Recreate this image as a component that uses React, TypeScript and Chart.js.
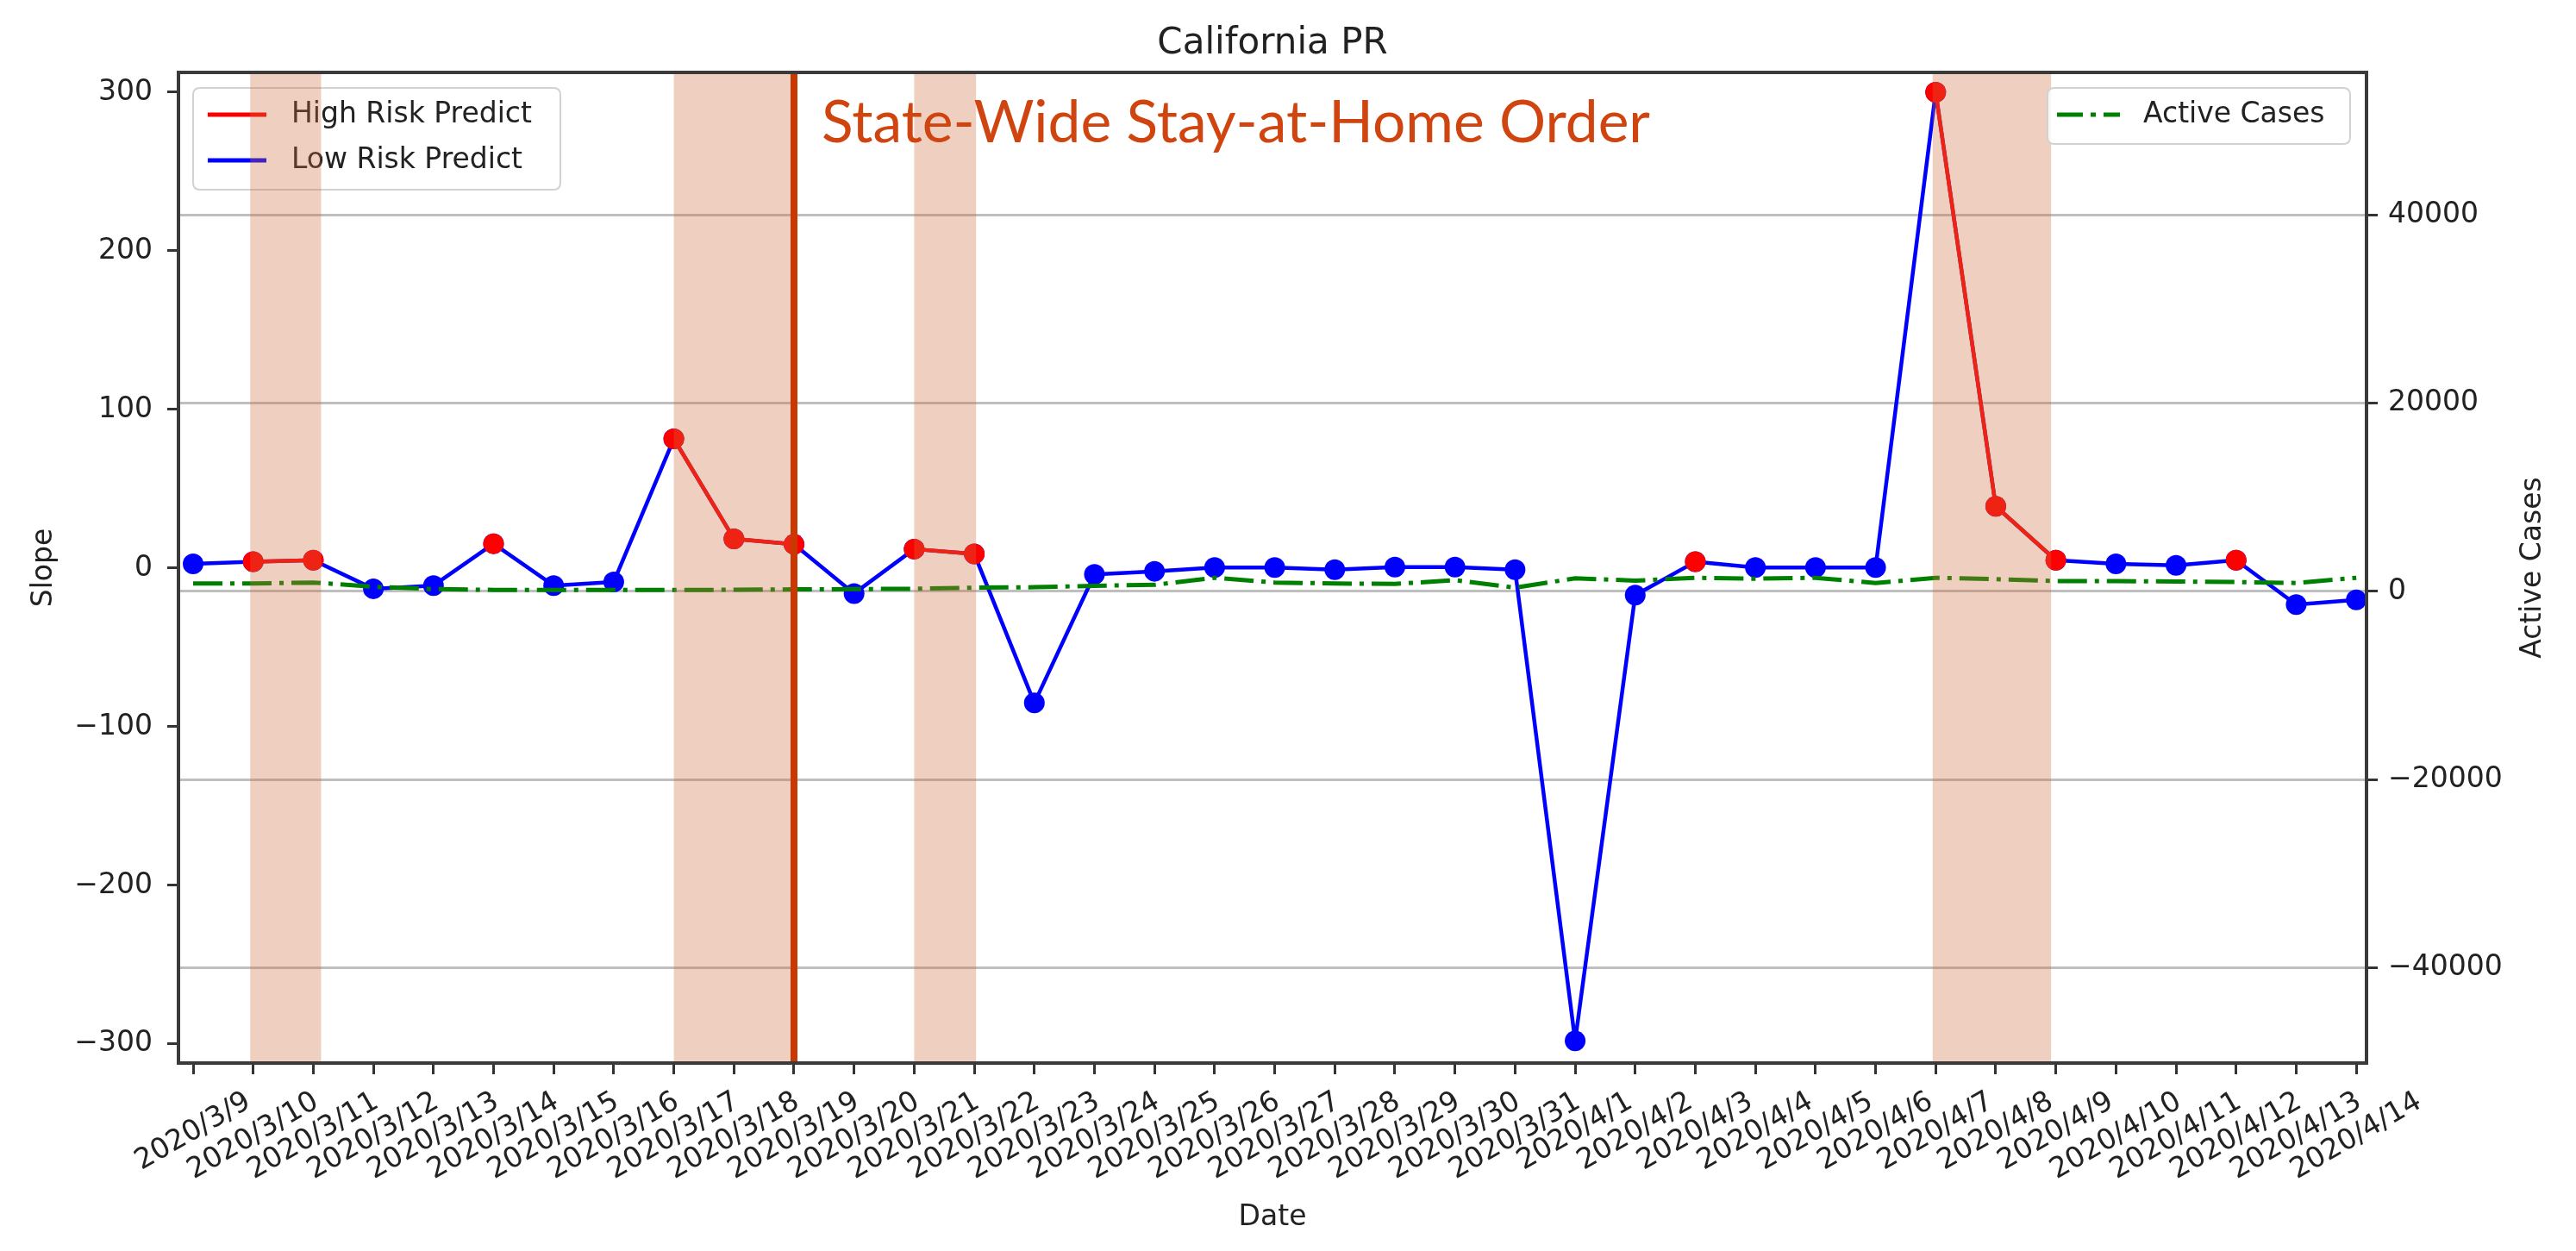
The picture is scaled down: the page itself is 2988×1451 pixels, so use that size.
import React, { useEffect, useRef } from 'react';
import { Chart, registerables } from 'chart.js';

Chart.register(...registerables);

// ---------------- data ----------------
const dates = [
  '2020/3/9', '2020/3/10', '2020/3/11', '2020/3/12', '2020/3/13', '2020/3/14', '2020/3/15',
  '2020/3/16', '2020/3/17', '2020/3/18', '2020/3/19', '2020/3/20', '2020/3/21', '2020/3/22',
  '2020/3/23', '2020/3/24', '2020/3/25', '2020/3/26', '2020/3/27', '2020/3/28', '2020/3/29',
  '2020/3/30', '2020/3/31', '2020/4/1', '2020/4/2', '2020/4/3', '2020/4/4', '2020/4/5',
  '2020/4/6', '2020/4/7', '2020/4/8', '2020/4/9', '2020/4/10', '2020/4/11', '2020/4/12',
  '2020/4/13', '2020/4/14',
];

const slope = [
  2.7, 4, 5, -13, -11, 15.4, -11, -8.7, 81.5, 18.5, 15, -16, 12, 9, -85, -4, -2, 0.4, 0.4,
  -1, 0.7, 0.7, -1, -298, -17, 4, 0.4, 0.4, 0.4, 300, 39, 5, 2.7, 1.8, 5, -23, -20,
];

const highRisk = [
  0, 1, 1, 0, 0, 1, 0, 0, 1, 1, 1, 0, 1, 1, 0, 0, 0, 0, 0, 0, 0, 0, 0, 0, 0, 1, 0, 0, 0, 1,
  1, 1, 0, 0, 1, 0, 0,
];

const activeCases = [
  850, 850, 950, 500, 250, 170, 150, 150, 150, 180, 220, 250, 280, 400, 450, 600, 700, 1450,
  950, 850, 800, 1200, 400, 1400, 1150, 1450, 1350, 1450, 900, 1450, 1300, 1100, 1100, 1050,
  1000, 900, 1450,
];

const slopeTicks = [-300, -200, -100, 0, 100, 200, 300];
const caseTicks = [-40000, -20000, 0, 20000, 40000];

const bands = [
  [0.95, 2.13],
  [8, 10],
  [12, 13.03],
  [28.95, 30.92],
];
const orderIndex = 10; // 2020/3/19
const orderText = 'State-Wide Stay-at-Home Order';
const chartTitle = 'California PR';
const xTitle = 'Date';
const yLeftTitle = 'Slope';
const yRightTitle = 'Active Cases';

// ---------------- style ----------------
const W = 2988;
const H = 1451;
const FONT = '"DejaVu Sans"';
const TEXT = '#222222';
const RED = '#ff0000';
const BLUE = '#0000ff';
const GREEN = '#008000';
const GREEN_DASH = [34, 9, 5, 9];

const fmt = (v: number) => (v < 0 ? '\u2212' + Math.abs(v) : String(v));

function roundRectPath(ctx: CanvasRenderingContext2D, x: number, y: number, w: number, h: number, r: number) {
  ctx.beginPath();
  ctx.moveTo(x + r, y);
  ctx.lineTo(x + w - r, y);
  ctx.quadraticCurveTo(x + w, y, x + w, y + r);
  ctx.lineTo(x + w, y + h - r);
  ctx.quadraticCurveTo(x + w, y + h, x + w - r, y + h);
  ctx.lineTo(x + r, y + h);
  ctx.quadraticCurveTo(x, y + h, x, y + h - r);
  ctx.lineTo(x, y + r);
  ctx.quadraticCurveTo(x, y, x + r, y);
  ctx.closePath();
}

function drawLegend(
  ctx: CanvasRenderingContext2D,
  box: { x: number; y: number; w: number; h: number },
  items: { label: string; color: string; dash: number[]; y: number }[],
  handleX0: number,
  handleX1: number,
  textX: number
) {
  ctx.save();
  roundRectPath(ctx, box.x, box.y, box.w, box.h, 8);
  ctx.fillStyle = 'rgba(255,255,255,0.8)';
  ctx.fill();
  ctx.strokeStyle = '#d2d2d2';
  ctx.lineWidth = 2;
  ctx.stroke();
  items.forEach((it) => {
    ctx.beginPath();
    ctx.setLineDash(it.dash);
    ctx.strokeStyle = it.color;
    ctx.lineWidth = 5;
    ctx.moveTo(handleX0, it.y);
    ctx.lineTo(handleX1, it.y);
    ctx.stroke();
    ctx.setLineDash([]);
    ctx.fillStyle = TEXT;
    ctx.font = `33px ${FONT}`;
    ctx.textAlign = 'left';
    ctx.textBaseline = 'middle';
    ctx.fillText(it.label, textX, it.y);
  });
  ctx.restore();
}

const decorPlugin = {
  id: 'decor',
  afterDatasetsDraw(chart: any) {
    const { ctx, chartArea: a, scales } = chart;
    const x = scales.x;
    const ds = chart.data.datasets;

    // left legend (drawn under the spans)
    drawLegend(
      ctx,
      { x: 224, y: 102, w: 426, h: 118 },
      [
        { label: ds[1].label, color: RED, dash: [], y: 133 },
        { label: ds[0].label, color: BLUE, dash: [], y: 186 },
      ],
      241,
      309,
      338
    );

    // shaded spans
    ctx.save();
    ctx.beginPath();
    ctx.rect(a.left, a.top, a.right - a.left, a.bottom - a.top);
    ctx.clip();
    ctx.fillStyle = 'rgba(205,110,60,0.32)';
    bands.forEach(([s, e]) => {
      const x0 = x.getPixelForValue(s);
      const x1 = x.getPixelForValue(e);
      ctx.fillRect(x0, a.top, x1 - x0, a.bottom - a.top);
    });

    // vertical order line
    const vx = x.getPixelForValue(orderIndex);
    ctx.beginPath();
    ctx.strokeStyle = '#C83800';
    ctx.lineWidth = 8;
    ctx.moveTo(vx, a.top);
    ctx.lineTo(vx, a.bottom);
    ctx.stroke();
    ctx.restore();

    // annotation text
    ctx.save();
    ctx.font = '68px Lato';
    const tw = ctx.measureText(orderText).width;
    const sx = 961 / tw;
    ctx.translate(953, 165);
    ctx.scale(sx, 1);
    ctx.fillStyle = '#D0440F';
    ctx.textAlign = 'left';
    ctx.textBaseline = 'alphabetic';
    ctx.fillText(orderText, 0, 0);
    ctx.restore();

    // right legend
    drawLegend(
      ctx,
      { x: 2375, y: 102, w: 351, h: 65 },
      [{ label: ds[2].label, color: GREEN, dash: [30, 9, 6, 9], y: 133 }],
      2386,
      2459,
      2486
    );

    // frame
    ctx.save();
    ctx.strokeStyle = '#3a3a3a';
    ctx.lineWidth = 4;
    ctx.strokeRect(a.left, a.top, a.right - a.left, a.bottom - a.top);
    ctx.restore();
  },
  afterDraw(chart: any) {
    const { ctx, chartArea: a, scales } = chart;
    const x = scales.x;
    ctx.save();
    ctx.fillStyle = TEXT;

    // title
    ctx.font = `42px ${FONT}`;
    ctx.textAlign = 'center';
    ctx.textBaseline = 'alphabetic';
    ctx.fillText(chartTitle, (a.left + a.right) / 2, 62);

    // x tick labels, rotated 30 deg and centred on the tick
    ctx.font = `33px ${FONT}`;
    ctx.textAlign = 'center';
    ctx.textBaseline = 'middle';
    const ang = Math.PI / 6;
    const lh = 33 * 1.164;
    const top = a.bottom + 26;
    dates.forEach((d, i) => {
      const px = x.getPixelForValue(i);
      const w = ctx.measureText(d).width;
      const hh = w * Math.sin(ang) + lh * Math.cos(ang);
      ctx.save();
      ctx.translate(px, top + hh / 2);
      ctx.rotate(-ang);
      ctx.fillText(d, 0, 0);
      ctx.restore();
    });

    // axis titles
    ctx.font = `33px ${FONT}`;
    ctx.textAlign = 'center';
    ctx.textBaseline = 'middle';
    ctx.fillText(xTitle, (a.left + a.right) / 2, 1412);

    const cy = (a.top + a.bottom) / 2;
    ctx.save();
    ctx.translate(51, cy);
    ctx.rotate(-Math.PI / 2);
    ctx.fillText(yLeftTitle, 0, 0);
    ctx.restore();

    ctx.save();
    ctx.translate(2938, cy);
    ctx.rotate(-Math.PI / 2);
    ctx.fillText(yRightTitle, 0, 0);
    ctx.restore();

    ctx.restore();
  },
};

export default function App() {
  const ref = useRef<HTMLCanvasElement | null>(null);

  useEffect(() => {
    if (!ref.current) return;
    Chart.defaults.font.family = 'DejaVu Sans';

    const tickGrid = {
      drawOnChartArea: false,
      drawTicks: true,
      tickLength: 13,
      tickColor: '#333333',
      tickWidth: 3,
      color: '#333333',
      lineWidth: 3,
    };

    const chart = new Chart(ref.current, {
      type: 'line',
      data: {
        datasets: [
          {
            label: 'Low Risk Predict',
            data: slope.map((v, i) => ({ x: i, y: v })),
            yAxisID: 'yL',
            borderColor: BLUE,
            backgroundColor: BLUE,
            borderWidth: 4.5,
            borderJoinStyle: 'round',
            pointRadius: 12,
            pointBorderWidth: 0,
            pointBackgroundColor: BLUE,
            tension: 0,
            order: 2,
          },
          {
            label: 'High Risk Predict',
            data: slope.map((v, i) => ({ x: i, y: highRisk[i] ? v : null })),
            yAxisID: 'yL',
            borderColor: RED,
            backgroundColor: RED,
            borderWidth: 4.5,
            borderJoinStyle: 'round',
            pointRadius: 12,
            pointBorderWidth: 0,
            pointBackgroundColor: RED,
            spanGaps: false,
            tension: 0,
            order: 1,
          },
          {
            label: 'Active Cases',
            data: activeCases.map((v, i) => ({ x: i, y: v })),
            yAxisID: 'yR',
            borderColor: GREEN,
            backgroundColor: GREEN,
            borderWidth: 5,
            borderDash: GREEN_DASH,
            pointRadius: 0,
            tension: 0,
            order: 0,
          },
        ],
      } as any,
      options: {
        responsive: false,
        animation: false,
        devicePixelRatio: 1,
        events: [],
        layout: { padding: { top: 84, left: 0, right: 0, bottom: 0 } },
        plugins: {
          legend: { display: false },
          title: { display: false },
          tooltip: { enabled: false },
        },
        scales: {
          x: {
            type: 'linear',
            position: 'bottom',
            bounds: 'data',
            min: -0.244,
            max: 36.17,
            afterBuildTicks: (s: any) => {
              s.ticks = dates.map((_, i) => ({ value: i }));
            },
            afterFit: (s: any) => {
              s.height = H - 1233;
            },
            ticks: { display: false },
            grid: tickGrid,
            border: { display: false },
          },
          yL: {
            type: 'linear',
            position: 'left',
            bounds: 'data',
            min: -312,
            max: 312.5,
            afterBuildTicks: (s: any) => {
              s.ticks = slopeTicks.map((v) => ({ value: v }));
            },
            afterFit: (s: any) => {
              s.width = 207;
            },
            ticks: {
              color: TEXT,
              font: { family: 'DejaVu Sans', size: 33 },
              padding: 17,
              callback: (v: any) => fmt(Number(v)),
            },
            grid: tickGrid,
            border: { display: false },
          },
          yR: {
            type: 'linear',
            position: 'right',
            bounds: 'data',
            min: -50130,
            max: 55170,
            afterBuildTicks: (s: any) => {
              s.ticks = caseTicks.map((v) => ({ value: v }));
            },
            afterFit: (s: any) => {
              s.width = W - 2745;
            },
            ticks: {
              color: TEXT,
              font: { family: 'DejaVu Sans', size: 33 },
              padding: 12,
              callback: (v: any) => fmt(Number(v)),
            },
            grid: {
              drawOnChartArea: true,
              drawTicks: true,
              tickLength: 13,
              tickColor: '#333333',
              tickWidth: 3,
              color: 'rgba(128,128,128,0.5)',
              lineWidth: 3,
            },
            border: { display: false },
          },
        },
      } as any,
      plugins: [decorPlugin],
    });

    return () => chart.destroy();
  }, []);

  return (
    <div style={{ position: 'fixed', left: 0, top: 0, width: W, height: H, background: '#ffffff' }}>
      <canvas ref={ref} width={W} height={H} style={{ display: 'block', width: W, height: H }} />
    </div>
  );
}
